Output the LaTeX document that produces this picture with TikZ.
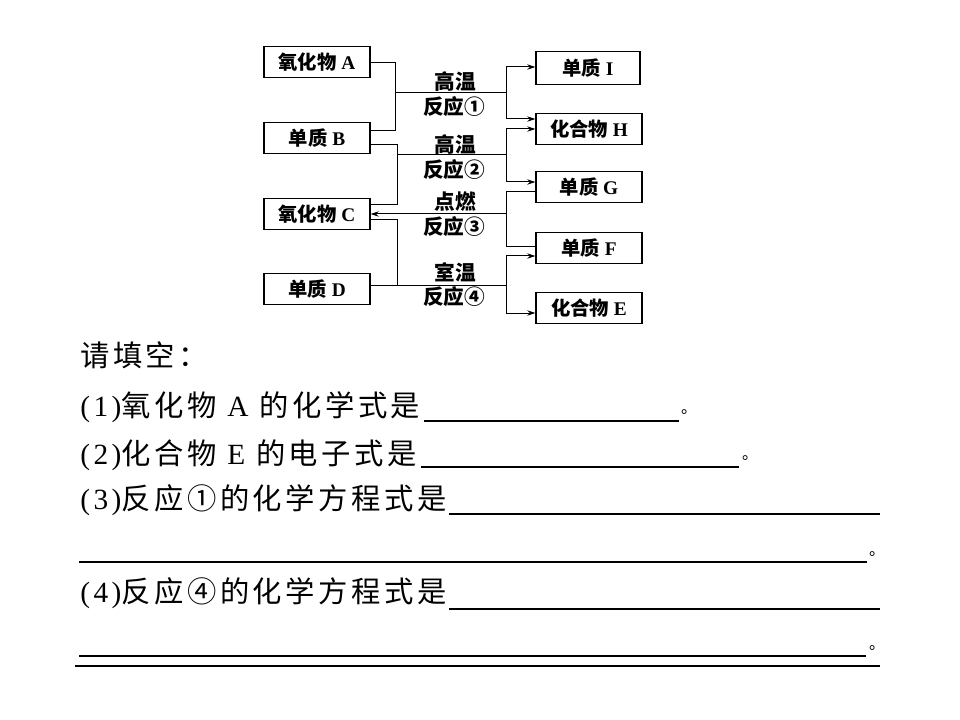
\documentclass[tikz,border=0pt]{standalone}
\usepackage{fontspec}
\setmainfont{Liberation Serif}
\newfontfamily\cjk{Noto Sans CJK SC}
\newfontfamily\cjksp[LetterSpace=12]{Noto Sans CJK SC}
\newfontfamily\latsp[LetterSpace=12]{Liberation Serif}
\usetikzlibrary{arrows.meta}
\begin{document}
\begin{tikzpicture}[x=0.75pt,y=-0.75pt,
  box/.style={draw,line width=1.1pt,minimum width=79.5pt,minimum height=23pt,inner sep=0pt,font=\fontsize{14.5}{16}\selectfont},
  conn/.style={line width=0.75pt},
  arr/.style={conn,-{Stealth[length=6pt,width=4pt]}},
  lab/.style={font=\cjk\bfseries\fontsize{15.5}{17}\selectfont,inner sep=0pt},
  qtext/.style={anchor=west,inner sep=0pt,font=\fontsize{22}{24}\selectfont},
  dot/.style={inner sep=0pt,font=\cjk\fontsize{12}{14}\selectfont},
  ans/.style={line width=1.5pt},
  thin/.style={line width=0.8pt}]
\useasboundingbox (0,0) rectangle (960,720);
% boxes
\node[box] (A) at (317,62) {{\cjk\bfseries 氧化物} \textbf{A}};
\node[box] (B) at (317,138) {{\cjk\bfseries 单质} \textbf{B}};
\node[box] (C) at (317,214) {{\cjk\bfseries 氧化物} \textbf{C}};
\node[box] (D) at (317,289) {{\cjk\bfseries 单质} \textbf{D}};
\node[box,minimum width=78pt,minimum height=24.5pt] (I) at (588,68) {{\cjk\bfseries 单质} \textbf{I}};
\node[box] (H) at (589,129) {{\cjk\bfseries 化合物} \textbf{H}};
\node[box] (G) at (589,187) {{\cjk\bfseries 单质} \textbf{G}};
\node[box] (F) at (589,248) {{\cjk\bfseries 单质} \textbf{F}};
\node[box] (E) at (589,308) {{\cjk\bfseries 化合物} \textbf{E}};
% labels
\node[lab] (l1a) at (455,82) {高温};
\node[lab] (l1b) at (454,107) {反应①};
\node[lab] (l2a) at (455,145) {高温};
\node[lab] (l2b) at (454,170) {反应②};
\node[lab] (l3a) at (455,202) {点燃};
\node[lab] (l3b) at (454,227) {反应③};
\node[lab] (l4a) at (455,272) {室温};
\node[lab] (l4b) at (454,297) {反应④};
% junction coordinates
\coordinate (a1) at (395,63);
\coordinate (b1) at (395,131);
\coordinate (m1) at (395,93);
\coordinate (r1) at (506,93);
\coordinate (r1t) at (506,67);
\coordinate (r1b) at (506,119);
\coordinate (b2) at (397,145);
\coordinate (c2) at (397,205);
\coordinate (m2) at (397,155);
\coordinate (r2) at (506,155);
\coordinate (r2t) at (506,129);
\coordinate (r2b) at (506,182);
\coordinate (g3) at (506,192);
\coordinate (f3) at (506,247);
\coordinate (r3) at (506,214);
\coordinate (c4) at (397,220);
\coordinate (d4) at (397,286);
\coordinate (r4) at (506,286);
\coordinate (r4t) at (506,256);
\coordinate (r4b) at (506,313);
% reaction 1
\draw[conn] (A.east |- a1) -- (a1) -- (b1) -- (B.east |- b1);
\draw[conn] (m1) -- (r1);
\draw[conn] (r1t) -- (r1b);
\draw[arr] (r1t) -- (I.west |- r1t);
\draw[arr] (r1b) -- (H.west |- r1b);
% reaction 2
\draw[conn] (B.east |- b2) -- (b2) -- (c2) -- (C.east |- c2);
\draw[conn] (m2) -- (r2);
\draw[conn] (r2t) -- (r2b);
\draw[arr] (r2t) -- (H.west |- r2t);
\draw[arr] (r2b) -- (G.west |- r2b);
% reaction 3
\draw[conn] (G.west |- g3) -- (g3) -- (f3) -- (F.west |- f3);
\draw[arr] (r3) -- (C.east |- r3);
% reaction 4
\draw[conn] (C.east |- c4) -- (c4) -- (d4);
\draw[conn] (D.east |- d4) -- (r4);
\draw[conn] (r4t) -- (r4b);
\draw[arr] (r4t) -- (F.west |- r4t);
\draw[arr] (r4b) -- (E.west |- r4b);
% questions
\node[qtext] (q0) at (80,355) {\cjksp 请填空：};
\node[qtext] (q1) at (80,407) {\latsp(1)\cjksp 氧化物\latsp{} A {}\cjksp 的化学式是};
\node[qtext] (q2) at (80,455) {\latsp(2)\cjksp 化合物\latsp{} E {}\cjksp 的电子式是};
\node[qtext] (q3) at (80,500) {\latsp(3)\cjksp 反应①的化学方程式是};
\node[qtext] (q4) at (80,593) {\latsp(4)\cjksp 反应④的化学方程式是};
\draw[ans] (424,421) -- (679,421);
\node[dot] (p1) at (689,412) {。};
\draw[ans] (421,467) -- (739,467);
\node[dot] (p2) at (750,458) {。};
\draw[thin] (449,514) -- (880,514);
\draw[thin] (79,562) -- (867,562);
\node[dot] (p3) at (877,554) {。};
\draw[ans] (449,609) -- (880,609);
\draw[thin] (79,656) -- (866,656);
\node[dot] (p4) at (877,648) {。};
\draw[thin] (75,666) -- (880,666);
\end{tikzpicture}
\end{document}
